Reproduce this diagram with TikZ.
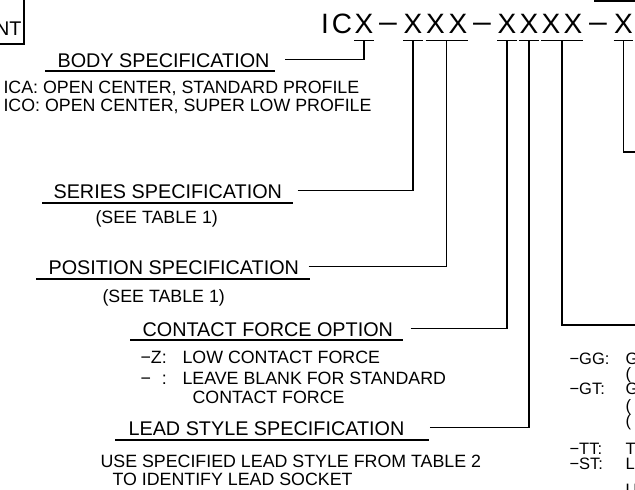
\documentclass[tikz,border=0pt]{standalone}
\usepackage{fontspec}
\setmainfont{Liberation Sans}
\usetikzlibrary{calc}

\begin{document}
\begin{tikzpicture}[x=1pt, y=-1pt, line width=1.1pt,
    head/.style={font=\fontsize{19.8}{22}\selectfont, inner sep=0pt, anchor=base west, text height=14.2pt, text depth=0pt},
    note/.style={font=\fontsize{17.8}{20}\selectfont, inner sep=0pt, anchor=base west},
    small/.style={font=\fontsize{16.5}{18}\selectfont, inner sep=0pt, anchor=base west},
    code/.style={font=\fontsize{28}{30}\selectfont, inner sep=0pt, anchor=base, text height=20pt, text depth=0pt},
    leader/.style={line width=1.1pt},
    uline/.style={line width=1.1pt}]
    \useasboundingbox (0,0) rectangle (635,490);
    \clip (0,0) rectangle (635,490);

    % part number
    \foreach \x/\c/\n in {325/I/ci, 342/C/cc, 364/X/cx, 388/\scalebox{1.3}[1]{−}/da, 413/X/sa,
                          435.5/X/pa, 458/X/pb, 482/\scalebox{1.3}[1]{−}/db, 507/X/fa, 529/X/la,
                          551/X/oa, 573/X/ob, 598/\scalebox{1.3}[1]{−}/dc, 623.5/X/ea}
        \node[code] (\n) at (\x,33) {\c};

    % T bars under the part number
    \foreach \a/\b in {cx/cx, sa/sa, pa/pb, fa/fa, la/la, oa/ob, ea/ea}
        \draw[uline] ([yshift=-7pt]\a.south west) -- ([yshift=-7pt]\b.south east);
    \coordinate (tb) at ([yshift=-7pt]cx.south);
    \coordinate (ts) at ([yshift=-7pt]sa.south);
    \coordinate (tp) at ($(pa.south)!.5!(pb.south)+(0,7)$);
    \coordinate (tf) at ([yshift=-7pt]fa.south);
    \coordinate (tl) at ([yshift=-7pt]la.south);
    \coordinate (to) at ($(oa.south)!.5!(ob.south)+(0,7)$);
    \coordinate (te) at ([yshift=-7pt]ea.south);

    % box at top left, edge at top right
    \node[head, anchor=base east] (nt) at (22,35) {NT};
    \draw (24,-2) |- (-2,44);
    \draw (594,1) -- (637,1);

    % body
    \node[head] (body) at (57,67) {BODY SPECIFICATION};
    \draw[uline] ([xshift=-12pt,yshift=-4pt]body.base west) -- ([xshift=5pt,yshift=-4pt]body.base east);
    \draw[leader] ([xshift=15pt]body.east) -| (tb);
    \node[note] (ica) at (3,93) {ICA: OPEN CENTER, STANDARD PROFILE};
    \node[note] (ico) at (3,111) {ICO: OPEN CENTER, SUPER LOW PROFILE};

    % series
    \node[head] (series) at (53,198) {SERIES SPECIFICATION};
    \draw[uline] ([xshift=-11pt,yshift=-5pt]series.base west) -- ([xshift=10pt,yshift=-5pt]series.base east);
    \draw[leader] ([xshift=15pt]series.east) -| (ts);
    \node[note] (seea) at (95,223) {(SEE TABLE 1)};

    % position
    \node[head] (pos) at (48,274) {POSITION SPECIFICATION};
    \draw[uline] ([xshift=-12pt,yshift=-5pt]pos.base west) -- ([xshift=10pt,yshift=-5pt]pos.base east);
    \draw[leader] ([xshift=9pt]pos.east) -| (tp);
    \node[note] (seeb) at (102,302) {(SEE TABLE 1)};

    % contact force
    \node[head] (force) at (142,336) {CONTACT FORCE OPTION};
    \draw[uline] ([xshift=-12pt,yshift=-4pt]force.base west) -- ([xshift=9pt,yshift=-4pt]force.base east);
    \draw[leader] ([xshift=17pt]force.east) -| (tf);
    \node[note] (lowz) at (140,363) {−Z:};
    \node[note] (lowzt) at (182,363) {LOW CONTACT FORCE};
    \node[note] (blank) at (140,384) {−\hspace{0.611em}:};
    \node[note] (blankt) at (182,384) {LEAVE BLANK FOR STANDARD};
    \node[note] (blanktt) at (192,403) {CONTACT FORCE};

    % lead style
    \node[head] (lead) at (128,435) {LEAD STYLE SPECIFICATION};
    \draw[uline] ([xshift=-13pt,yshift=-5pt]lead.base west) -- ([xshift=24pt,yshift=-5pt]lead.base east);
    \draw[leader] ([xshift=25pt]lead.east) -| (tl);
    \node[note] (use) at (100,467) {USE SPECIFIED LEAD STYLE FROM TABLE 2};
    \node[note] (sock) at (112,485) {TO IDENTIFY LEAD SOCKET};

    % leaders running off to the right
    \coordinate (ro) at (637,325);
    \coordinate (re) at (637,152);
    \draw[leader] (to) |- (ro);
    \draw[leader] (te) |- (re);

    % finish options
    \node[small] (gg) at (569,364) {−GG:};
    \node[small] (ggt) at (625,364) {G};
    \node[small] (ggp) at (625,379) {(};
    \node[small] (gt) at (569,394) {−GT:};
    \node[small] (gtt) at (625,394) {G};
    \node[small] (gtpa) at (625,411) {(};
    \node[small] (gtpb) at (625,426) {(};
    \node[small] (tt) at (569,454) {−TT:};
    \node[small] (ttt) at (625,454) {T};
    \node[small] (st) at (569,469) {−ST:};
    \node[small] (stt) at (625,469) {L};
    \node[small] (stu) at (625,495) {U};
\end{tikzpicture}
\end{document}
